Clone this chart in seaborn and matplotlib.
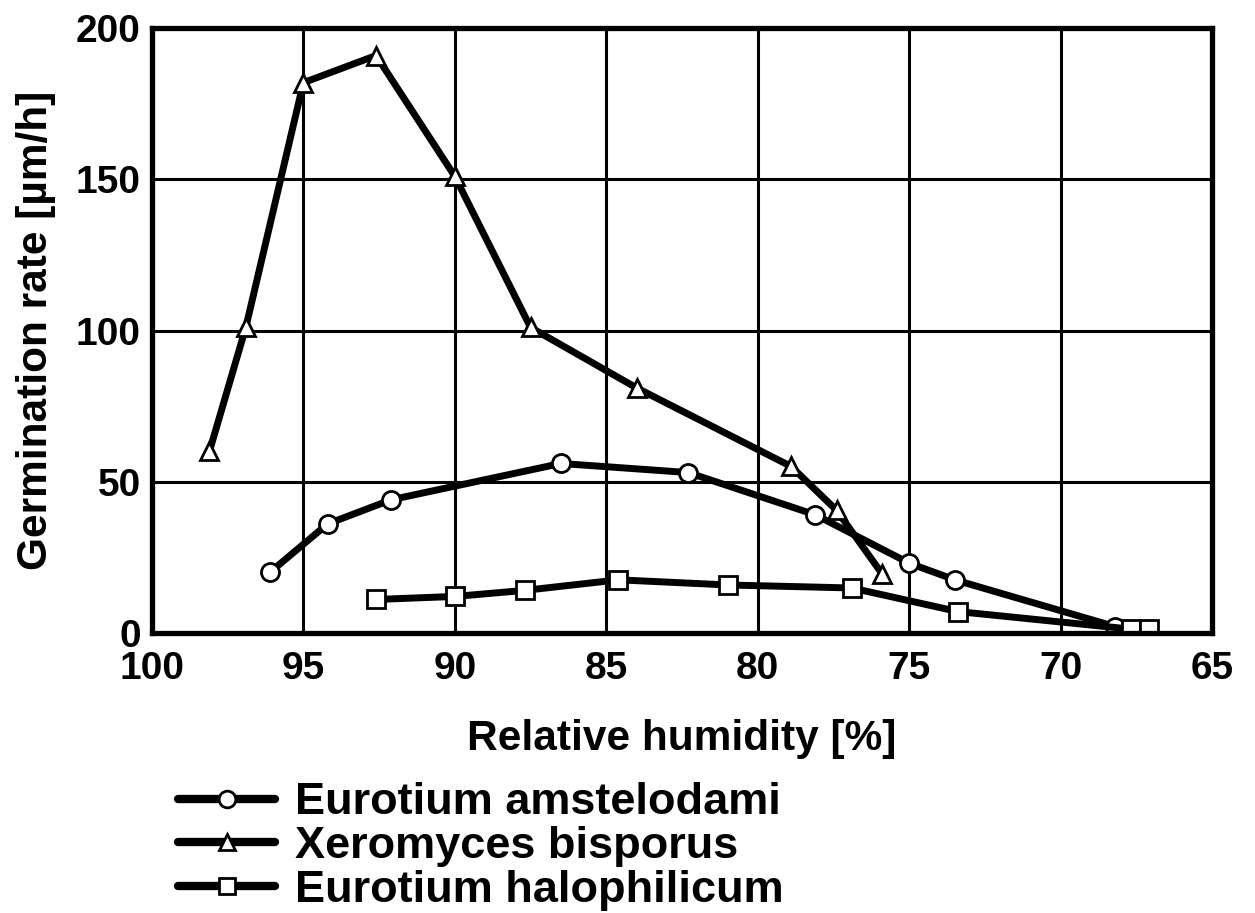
import pandas as pd
import seaborn as sns
import matplotlib.pyplot as plt
from matplotlib.lines import Line2D

# values
amst_rh = [96.1, 94.2, 92.1, 86.5, 82.3, 78.1, 75.0, 73.5, 68.2]
amst_rate = [20, 36, 44, 56, 53, 39, 23, 17.5, 2]

xero_rh = [98.1, 96.9, 95.0, 92.6, 90.0, 87.5, 84.0, 78.9, 77.4, 75.9]
xero_rate = [60, 101, 182, 191, 151, 101, 81, 55, 40.5, 19.5]

halo_rh = [92.6, 90.0, 87.7, 84.6, 81.0, 76.9, 73.4, 67.7, 67.1]
halo_rate = [11, 12, 14, 17.5, 15.8, 14.8, 7, 1.2, 1.2]

names = ["Eurotium amstelodami", "Xeromyces bisporus", "Eurotium halophilicum"]
marker_map = {names[0]: "o", names[1]: "^", names[2]: "s"}
x_ticks = [100, 95, 90, 85, 80, 75, 70, 65]
y_ticks = [0, 50, 100, 150, 200]


def build_frame():
    parts = []
    for name, rh, rate in zip(names, [amst_rh, xero_rh, halo_rh],
                              [amst_rate, xero_rate, halo_rate]):
        parts.append(pd.DataFrame({"rh": rh, "rate": rate, "species": name}))
    return pd.concat(parts, ignore_index=True)


def plot_germination(df, save_path=None):
    sns.set_style("white")
    plt.rcParams["font.family"] = ["Liberation Sans", "DejaVu Sans"]
    plt.rcParams["font.weight"] = "bold"
    for key in ["text.color", "axes.labelcolor", "xtick.color", "ytick.color"]:
        plt.rcParams[key] = "black"

    fig = plt.figure(figsize=(12.55, 9.13), dpi=100)
    ax = fig.add_axes([0.121, 0.307, 0.845, 0.662])

    sns.lineplot(data=df, x="rh", y="rate", hue="species", style="species",
                 palette=["black"] * 3, markers=marker_map, dashes=False,
                 sort=False, linewidth=5, markersize=13,
                 markerfacecolor="white", markeredgecolor="black",
                 markeredgewidth=2, legend=False, ax=ax)

    ax.set_xlim(100, 65)
    ax.set_ylim(0, 200)
    ax.set_xticks(x_ticks)
    ax.set_yticks(y_ticks)
    ax.grid(True, color="black", linewidth=2.2)
    ax.set_axisbelow(True)
    for sp in ax.spines.values():
        sp.set_linewidth(3.8)
        sp.set_color("black")
    ax.tick_params(length=0, labelsize=28)
    ax.tick_params(axis="x", pad=13)
    ax.tick_params(axis="y", pad=8)
    for lab in ax.get_xticklabels() + ax.get_yticklabels():
        lab.set_fontweight("bold")
    ax.set_xlabel("Relative humidity [%]", fontsize=30.5, fontweight="bold",
                  labelpad=23)
    ax.set_ylabel("Germination rate [µm/h]", fontsize=30.5, fontweight="bold",
                  labelpad=14)

    handles = [Line2D([], [], color="black", linewidth=6, marker=marker_map[n],
                      markersize=12, markerfacecolor="white",
                      markeredgecolor="black", markeredgewidth=2)
               for n in names]
    fig.legend(handles, names, loc="upper left",
               bbox_to_anchor=(0.142, 0.143), frameon=False,
               prop={"size": 32.5, "weight": "bold"}, handlelength=2.15,
               handletextpad=0.43, labelspacing=0.06, borderaxespad=0,
               borderpad=0)

    if save_path:
        fig.savefig(save_path, dpi=100)
    plt.close(fig)


plot_germination(build_frame(), "out.png")
